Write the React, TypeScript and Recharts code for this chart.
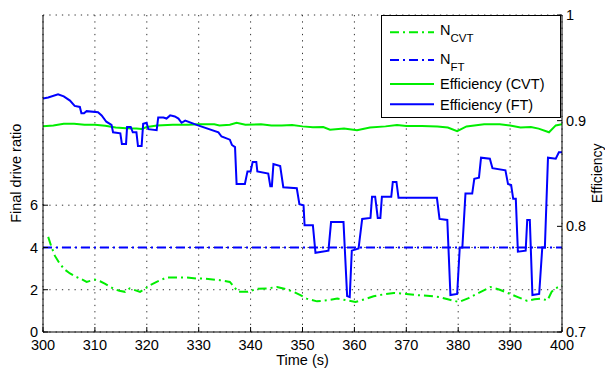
import React from 'react';
import { LineChart, Line, XAxis, YAxis, CartesianGrid } from 'recharts';

// ---- tick labels ----
const xTicks = [300, 310, 320, 330, 340, 350, 360, 370, 380, 390, 400];
const leftTicks = [0, 2, 4, 6];
const rightTicks = [0.7, 0.8, 0.9, 1];

// ---- N_CVT (final drive ratio, left axis) ----
const nCvtTime = [301.0, 301.6, 302.3, 303.2, 304.2, 305.2, 306.4, 307.4, 308.4, 310.0, 311.0, 311.9, 313.5, 314.7, 315.8, 316.7, 317.7, 318.7, 319.7, 320.6, 321.9, 323.8, 327.7, 329.6, 331.0, 334.1, 336.0, 337.6, 339.5, 341.2, 343.1, 345.1, 346.5, 348.3, 349.6, 350.8, 352.8, 354.7, 356.7, 358.5, 360.2, 362.0, 363.7, 366.0, 367.6, 370.0, 372.1, 374.0, 376.3, 378.0, 380.1, 382.0, 383.7, 386.2, 388.0, 389.8, 391.5, 393.3, 394.7, 395.9, 397.2, 398.0, 398.6, 400.0];
const nCvtValue = [4.5, 4.05, 3.6, 3.24, 2.95, 2.77, 2.61, 2.5, 2.37, 2.48, 2.4, 2.29, 2.06, 1.95, 1.9, 2.06, 1.98, 1.9, 2.05, 2.21, 2.37, 2.58, 2.58, 2.53, 2.53, 2.45, 2.37, 1.9, 1.9, 2.04, 2.06, 2.13, 2.05, 1.9, 1.75, 1.58, 1.45, 1.5, 1.58, 1.5, 1.42, 1.55, 1.69, 1.8, 1.85, 1.8, 1.74, 1.72, 1.66, 1.55, 1.42, 1.6, 1.82, 2.13, 2.0, 1.82, 1.65, 1.47, 1.55, 1.58, 1.5, 1.9, 2.05, 2.2];

// ---- N_FT (final drive ratio, left axis) ----
const nFtTime = [300, 400];
const nFtValue = [4, 4];

// ---- Efficiency (CVT), right axis ----
const effCvtTime = [300, 302, 304, 306, 308, 310, 312, 314, 316, 318, 319, 320, 322, 325, 328, 330, 333, 334, 336, 337.3, 339, 342, 344, 346, 348, 350, 352, 354, 355.3, 358, 360.5, 363, 366, 368.2, 370, 373, 376, 378, 379.8, 381.6, 385, 388, 390, 392, 394, 395.5, 397.5, 398.8, 400];
const effCvtValue = [0.8946, 0.8955, 0.897, 0.897, 0.8962, 0.8962, 0.8952, 0.8935, 0.8928, 0.8925, 0.8922, 0.894, 0.8955, 0.8962, 0.8962, 0.8966, 0.8966, 0.8955, 0.8962, 0.898, 0.8962, 0.8966, 0.8955, 0.8955, 0.8958, 0.8946, 0.8938, 0.894, 0.8915, 0.8925, 0.891, 0.8935, 0.8946, 0.896, 0.895, 0.895, 0.8945, 0.8935, 0.890, 0.8945, 0.8966, 0.8966, 0.8955, 0.8935, 0.894, 0.8925, 0.889, 0.8955, 0.8966];

// ---- Efficiency (FT), right axis ----
const effFtTime = [300, 301, 302.9, 304, 305.2, 306.1, 307.1, 307.4, 307.9, 308.4, 310.6, 311.3, 312.2, 313.2, 313.5, 314.9, 315.2, 316.0, 316.2, 316.9, 317.3, 318.0, 318.3, 319.0, 319.3, 319.96, 320.3, 321.9, 322.2, 323.2, 323.8, 324.5, 325.4, 326.1, 326.7, 327.4, 329.6, 333.8, 334.4, 336.0, 336.4, 337.0, 337.3, 338.9, 339.4, 340.0, 340.4, 341.1, 341.3, 343.4, 343.8, 344.1, 344.4, 345.7, 346.3, 348.9, 349.4, 350.2, 350.4, 352.0, 352.5, 355.0, 355.5, 357.9, 358.6, 359.1, 359.5, 360.8, 361.5, 363.1, 363.4, 364.0, 364.5, 365.0, 365.3, 367.1, 367.4, 368.1, 368.5, 375.9, 376.4, 377.9, 378.5, 379.8, 380.3, 380.8, 381.4, 382.7, 383.1, 384.0, 384.4, 386.1, 386.6, 389.1, 389.6, 390.2, 390.6, 391.1, 391.5, 393.0, 393.3, 393.8, 394.3, 395.6, 396.2, 396.7, 397.3, 398.8, 399.4, 400];
const effFtValue = [0.921, 0.922, 0.925, 0.923, 0.919, 0.914, 0.913, 0.907, 0.907, 0.909, 0.908, 0.905, 0.899, 0.896, 0.889, 0.888, 0.878, 0.878, 0.894, 0.894, 0.889, 0.889, 0.876, 0.876, 0.897, 0.898, 0.892, 0.891, 0.903, 0.903, 0.902, 0.905, 0.904, 0.902, 0.898, 0.900, 0.896, 0.889, 0.885, 0.882, 0.877, 0.875, 0.840, 0.840, 0.852, 0.852, 0.861, 0.861, 0.852, 0.850, 0.838, 0.838, 0.859, 0.857, 0.837, 0.836, 0.821, 0.820, 0.801, 0.801, 0.775, 0.777, 0.804, 0.804, 0.734, 0.733, 0.777, 0.779, 0.807, 0.808, 0.828, 0.828, 0.808, 0.808, 0.828, 0.828, 0.842, 0.842, 0.827, 0.827, 0.807, 0.806, 0.735, 0.736, 0.780, 0.780, 0.831, 0.831, 0.845, 0.846, 0.865, 0.864, 0.855, 0.853, 0.840, 0.839, 0.826, 0.826, 0.776, 0.777, 0.806, 0.806, 0.735, 0.736, 0.780, 0.780, 0.865, 0.864, 0.870, 0.870];

const toRows = (ts: number[], vs: number[]) => ts.map((t, i) => ({ t, v: vs[i] }));
const nCvtData = toRows(nCvtTime, nCvtValue);
const nFtData = toRows(nFtTime, nFtValue);
const effCvtData = toRows(effCvtTime, effCvtValue);
const effFtData = toRows(effFtTime, effFtValue);

const GREEN = '#00ee00';
const BLUE = '#0000ff';
const FONT = '"Liberation Sans", Arial, Helvetica, sans-serif';
const DASHDOT = '9 4 2 4';

const tickStyle = { fill: '#000', fontSize: 14.5, fontFamily: FONT };

export default function App() {
  return (
    <div style={{ position: 'absolute', left: 0, top: 0, width: 605, height: 371, fontFamily: FONT, background: '#fff' }}>
      <LineChart width={605} height={371} margin={{ top: 15, right: 0, bottom: 0, left: 0 }}>
        <CartesianGrid stroke="#333" strokeDasharray="1.3 5" strokeWidth={1} />
        <XAxis
          type="number"
          dataKey="t"
          domain={[300, 400]}
          ticks={xTicks}
          interval={0}
          allowDataOverflow
          height={39}
          tickSize={-5}
          tickMargin={13}
          axisLine={{ stroke: '#000' }}
          tickLine={{ stroke: '#000' }}
          tick={tickStyle}
        />
        <YAxis
          type="number"
          domain={[0, 15]}
          ticks={leftTicks}
          interval={0}
          allowDataOverflow
          width={43}
          tickSize={-5}
          tickMargin={10}
          axisLine={{ stroke: '#000' }}
          tickLine={{ stroke: '#000' }}
          tick={tickStyle}
        />
        <YAxis
          yAxisId="right"
          orientation="right"
          type="number"
          domain={[0.7, 1]}
          ticks={rightTicks}
          interval={0}
          allowDataOverflow
          width={43}
          tickSize={-5}
          tickMargin={9}
          axisLine={{ stroke: '#000' }}
          tickLine={{ stroke: '#000' }}
          tick={tickStyle}
        />
        <Line data={nCvtData} dataKey="v" type="linear" stroke={GREEN} strokeWidth={2} strokeDasharray={DASHDOT} dot={false} activeDot={false} isAnimationActive={false} />
        <Line data={nFtData} dataKey="v" type="linear" stroke={BLUE} strokeWidth={2} strokeDasharray={DASHDOT} dot={false} activeDot={false} isAnimationActive={false} />
        <Line yAxisId="right" data={effCvtData} dataKey="v" type="linear" stroke={GREEN} strokeWidth={2} dot={false} activeDot={false} isAnimationActive={false} />
        <Line yAxisId="right" data={effFtData} dataKey="v" type="linear" stroke={BLUE} strokeWidth={2} dot={false} activeDot={false} isAnimationActive={false} />
      </LineChart>
      <svg width={605} height={371} style={{ position: 'absolute', left: 0, top: 0, pointerEvents: 'none' }}>
        <text x={302.5} y={365} textAnchor="middle" fontSize={14.5} fontFamily={FONT} fill="#000">Time (s)</text>
        <text transform="translate(21,173.3) rotate(-90)" textAnchor="middle" fontSize={14.5} fontFamily={FONT} fill="#000">Final drive ratio</text>
        <text transform="translate(602,173.3) rotate(-90)" textAnchor="middle" fontSize={14} fontFamily={FONT} fill="#000">Efficiency</text>
        <g>
          <rect x={381.5} y={15.5} width={179} height={102} fill="#fff" stroke="#000" strokeWidth={1} />
          <line x1={390} x2={434} y1={32.3} y2={32.3} stroke={GREEN} strokeWidth={2} strokeDasharray={DASHDOT} />
          <text x={440} y={35} fontSize={14.5} fontFamily={FONT} fill="#000">N<tspan fontSize={11.5} dy={6.5}>CVT</tspan></text>
          <line x1={390} x2={434} y1={60} y2={60} stroke={BLUE} strokeWidth={2} strokeDasharray={DASHDOT} />
          <text x={440} y={64} fontSize={14.5} fontFamily={FONT} fill="#000">N<tspan fontSize={11.5} dy={6.5}>FT</tspan></text>
          <line x1={390} x2={434} y1={84} y2={84} stroke={GREEN} strokeWidth={2} />
          <text x={440} y={89.3} fontSize={14.5} fontFamily={FONT} fill="#000">Efficiency (CVT)</text>
          <line x1={390} x2={434} y1={104.3} y2={104.3} stroke={BLUE} strokeWidth={2} />
          <text x={440} y={109.8} fontSize={14.5} fontFamily={FONT} fill="#000">Efficiency (FT)</text>
        </g>
      </svg>
    </div>
  );
}
